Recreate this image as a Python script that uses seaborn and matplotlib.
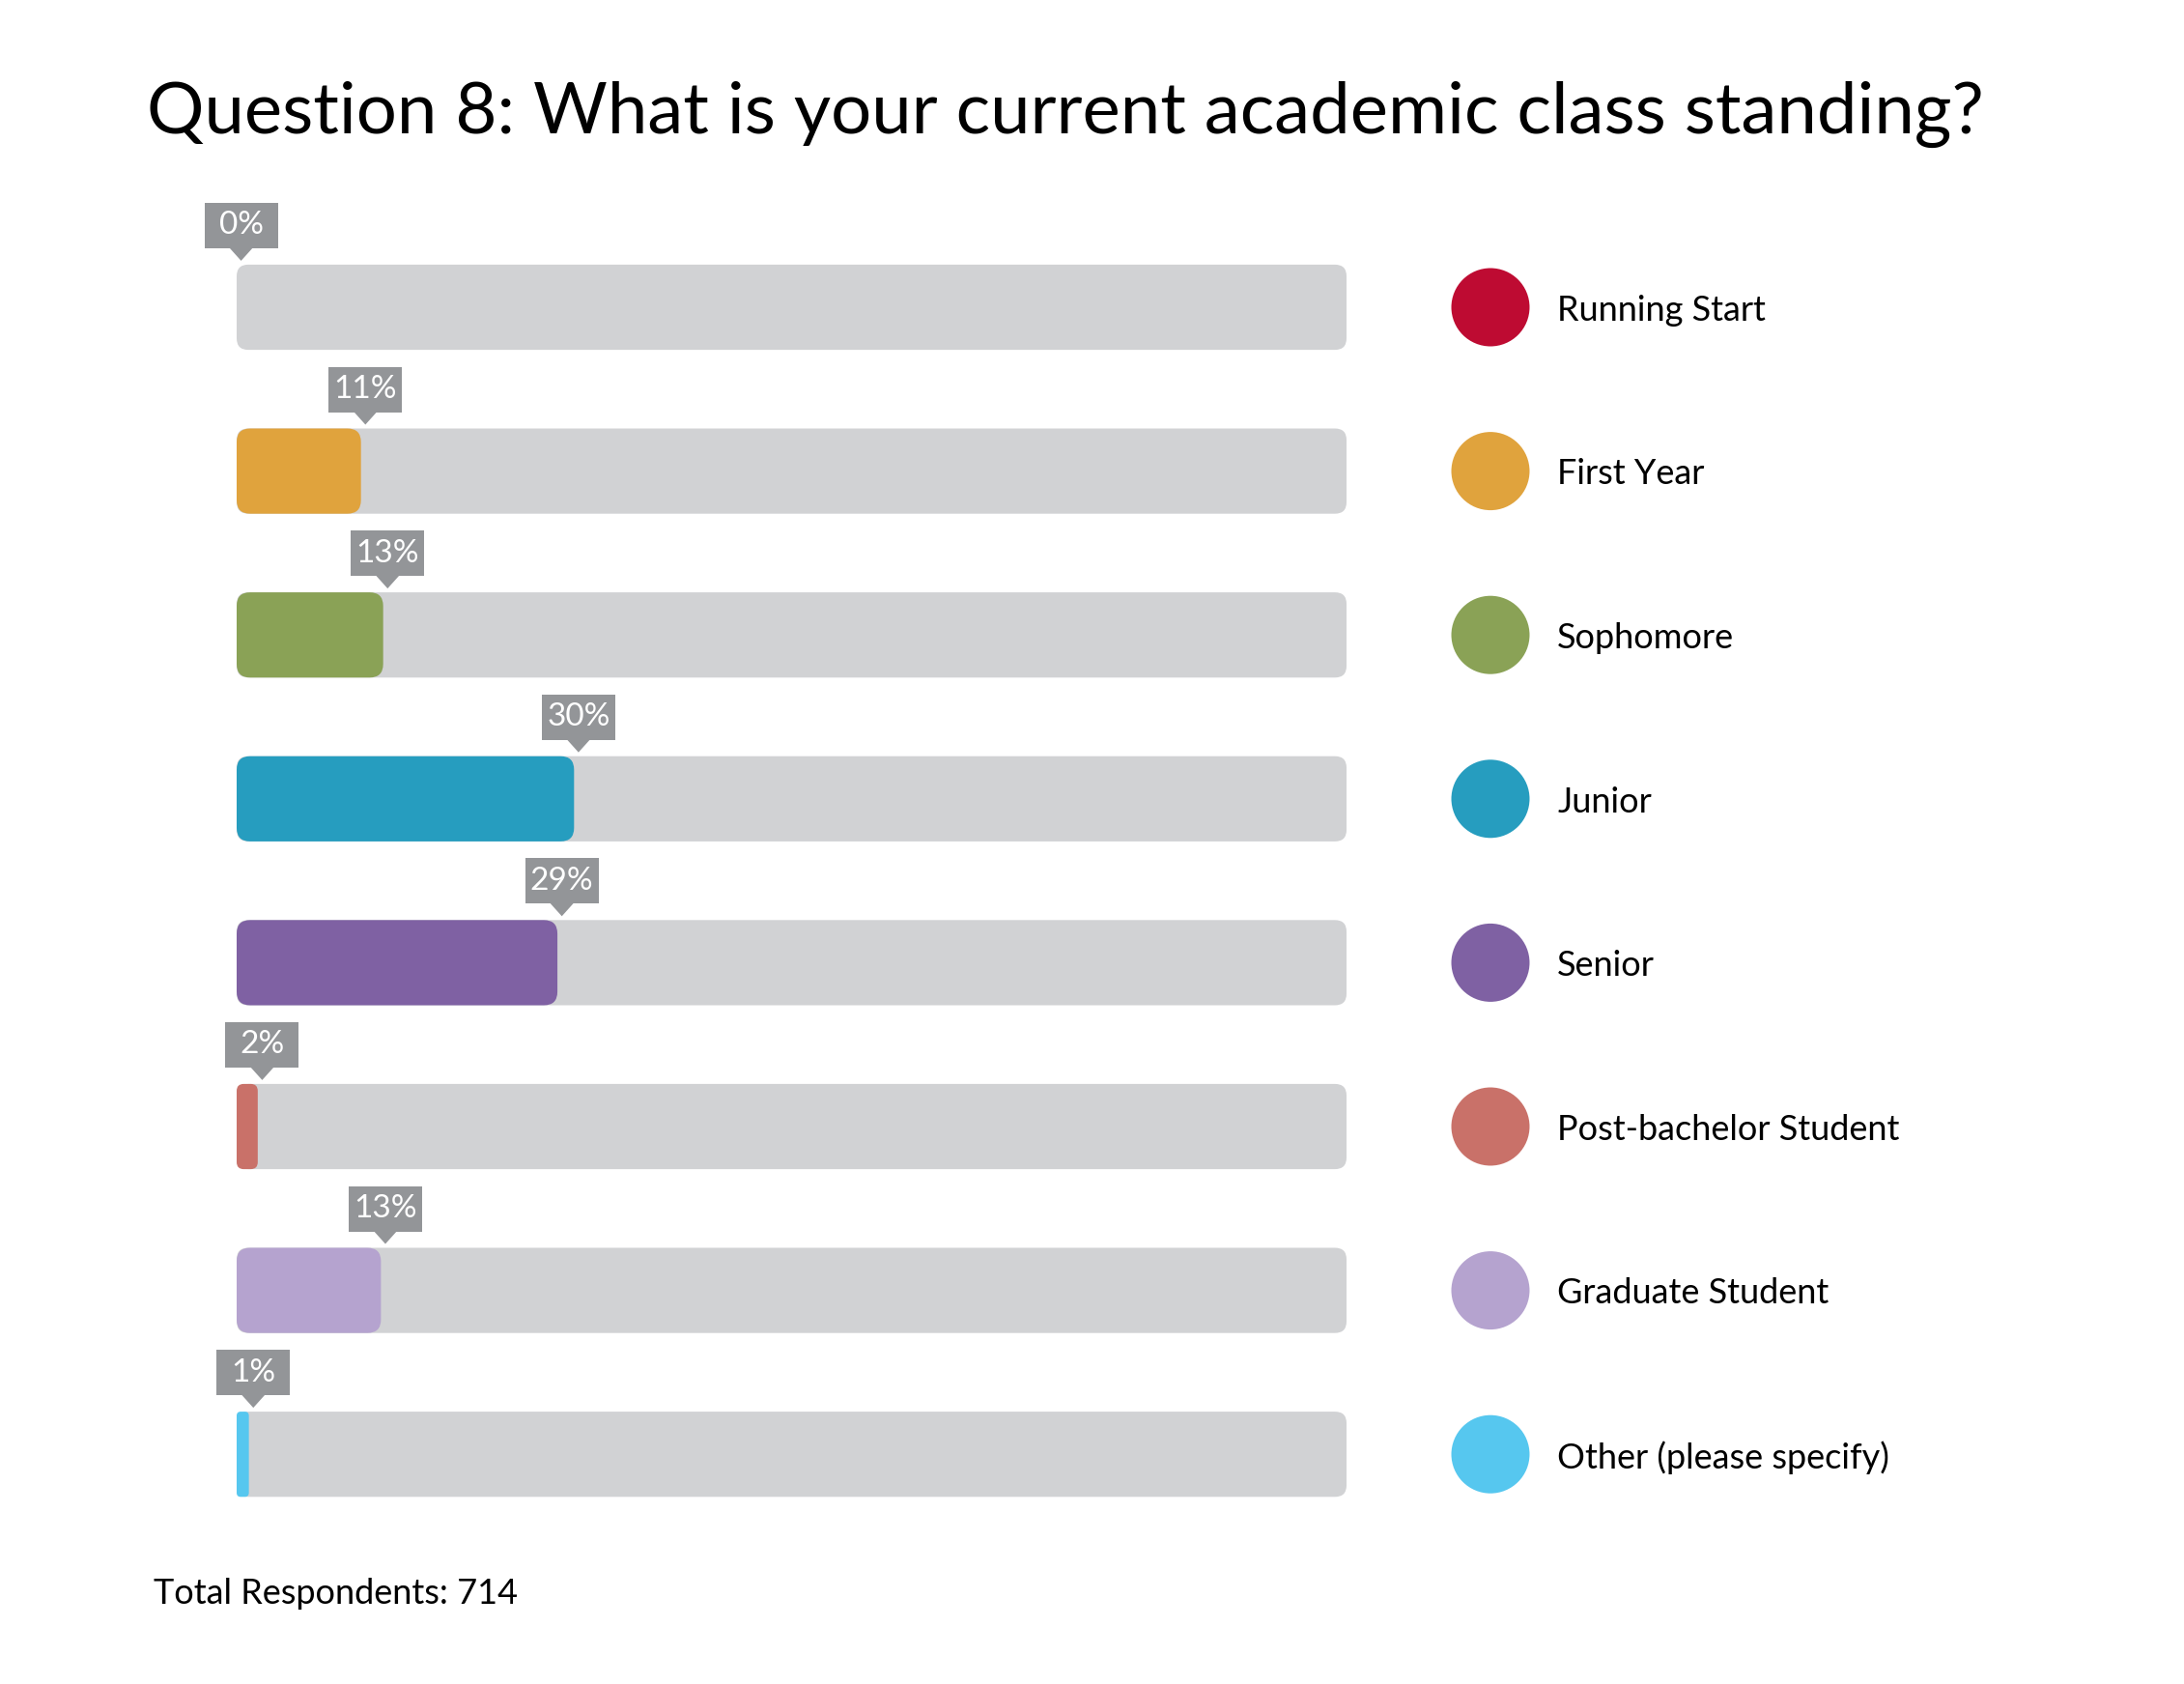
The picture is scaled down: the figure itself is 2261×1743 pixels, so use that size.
import matplotlib
matplotlib.use("Agg")
import matplotlib.pyplot as plt
import seaborn as sns
import pandas as pd
from matplotlib.patches import FancyBboxPatch, Rectangle, Polygon

# data
categories = ["Running Start", "First Year", "Sophomore", "Junior", "Senior",
              "Post-bachelor Student", "Graduate Student", "Other (please specify)"]
percents = [0.0, 11.2, 13.2, 30.4, 28.9, 1.9, 13.0, 1.1]
colors = ["#BE0B32", "#E0A33D", "#8AA256", "#269DBF", "#7F61A3",
          "#C97169", "#B5A3CF", "#56C7EF"]
total_respondents = 714

title = "Question 8: What is your current academic class standing?"

sns.set_theme(style="white")
plt.rcParams['font.family'] = ['Lato', 'DejaVu Sans']

W, H = 2261, 1743
fig = plt.figure(figsize=(W / 100, H / 100), dpi=100)
fig.patch.set_facecolor("white")

# axes placed so that 0..100 spans the grey track
ax_left, ax_right = 245, 1394
row_px = 169.6
top_px = 318 - row_px / 2
bot_px = top_px + row_px * len(categories)
ax = fig.add_axes([ax_left / W, 1 - bot_px / H, (ax_right - ax_left) / W, (bot_px - top_px) / H])

df = pd.DataFrame({"standing": categories, "percent": percents,
                   "full": [100] * len(categories)})

sns.barplot(data=df, x="full", y="standing", color="#D1D2D4", saturation=1,
            width=0.52, ax=ax, orient="h")
bg_patches = list(ax.patches)
sns.barplot(data=df, x="percent", y="standing", hue="standing", palette=colors,
            saturation=1, width=0.52, ax=ax, orient="h", legend=False)
fill_patches = [p for p in ax.patches if p not in bg_patches]

ax.set_xlim(0, 100)
ax.set_ylim(len(categories) - 0.5, -0.5)
ax.axis("off")

px_x = (ax_right - ax_left) / 100.0   # pixels per x unit
px_y = row_px                          # pixels per y unit


def round_bars(patches, r_px, z):
    for p in patches:
        x, y, w, h = p.get_x(), p.get_y(), p.get_width(), p.get_height()
        fc = p.get_facecolor()
        p.remove()
        if w <= 0:
            continue
        r = min(r_px, w * px_x / 3) / px_x
        ax.add_patch(FancyBboxPatch((x, y), w, h,
                                    boxstyle=f"round,pad=0,rounding_size={r}",
                                    mutation_aspect=px_x / px_y,
                                    fc=fc, ec="none", zorder=z))


round_bars(bg_patches, 12, 1)
round_bars(fill_patches, 14, 2)

# value callouts
box_w = 76 / px_x
box_h = 47 / px_y
for i, v in enumerate(percents):
    tip_x = v + 0.4
    tip_y = i - 0.26 - 4 / px_y
    box_b = tip_y - 13 / px_y
    ax.add_patch(Rectangle((tip_x - box_w / 2, box_b - box_h), box_w, box_h,
                           fc="#939598", ec="none", clip_on=False, zorder=3))
    ax.add_patch(Polygon([(tip_x - 12 / px_x, box_b - 0.002), (tip_x + 12 / px_x, box_b - 0.002),
                          (tip_x, tip_y)], closed=True, fc="#939598", ec="none",
                         clip_on=False, zorder=3))
    ax.text(tip_x, box_b - box_h / 2, f"{round(v)}%", color="white", fontsize=24,
            ha="center", va="center", clip_on=False, zorder=4)

# legend drawn alongside the rows
leg_x = (1543 - ax_left) / px_x
txt_x = (1612 - ax_left) / px_x
ax.scatter([leg_x] * len(categories), range(len(categories)), s=3400, c=colors,
           marker="o", linewidths=0, clip_on=False, zorder=3)
for i, name in enumerate(categories):
    ax.text(txt_x, i + 0.02, name, fontsize=26, color="black", ha="left", va="center",
            clip_on=False)

fig.text(152 / W, 1 - 138 / H, title, fontsize=53.5, color="black", ha="left", va="baseline")
fig.text(159 / W, 1 - 1660 / H, f"Total Respondents: {total_respondents}", fontsize=26,
         color="black", ha="left", va="baseline")

fig.savefig("out.png", dpi=100, facecolor="white")
